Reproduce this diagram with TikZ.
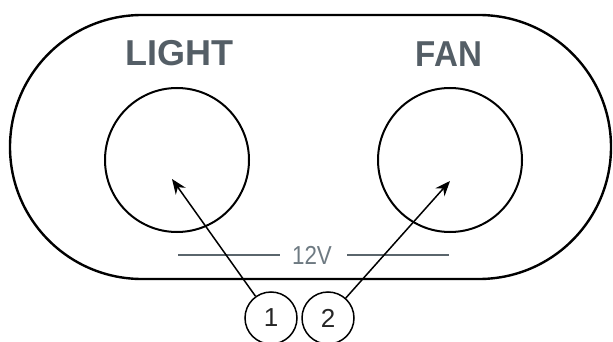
\documentclass[tikz,border=0pt]{standalone}
\usepackage{fontspec}
\setmainfont{Liberation Sans}
\usetikzlibrary{arrows.meta}
\definecolor{labelgray}{RGB}{84,94,102}
\definecolor{voltgray}{RGB}{110,122,130}
\definecolor{linegray}{RGB}{90,101,108}
\begin{document}
\begin{tikzpicture}[x=1pt,y=-1pt,
  button/.style={circle,draw=black,line width=2pt,minimum size=144pt,inner sep=0pt},
  title/.style={font=\fontsize{36}{38}\selectfont\bfseries,text=labelgray,inner sep=0pt},
  callout/.style={circle,draw=black,line width=1.5pt,minimum size=52pt,inner sep=0pt,font=\fontsize{26}{28}\selectfont,text=black!85},
  pointer/.style={line width=1.5pt,-{Stealth[length=15pt,width=12pt]}},
  volt/.style={line width=2pt,draw=linegray}]
\useasboundingbox (0,0) rectangle (613,342);
\draw[line width=2.4pt,rounded corners=132pt] (10,15) rectangle (611,279);
\node[title] (lt) at (179,53) {LIGHT};
\node[title,xscale=0.92] (ft) at (449,54) {FAN};
\node[button] (light) at (177,160) {};
\node[button] (fan) at (450,160) {};
\node[inner sep=0pt,font=\fontsize{26}{28}\selectfont,text=voltgray,xscale=0.86] (v) at (312,255) {12V};
\coordinate (l1) at (178,255);
\coordinate (l2) at (280,255);
\coordinate (r1) at (347,255);
\coordinate (r2) at (449,255);
\draw[volt] (l1) -- (l2);
\draw[volt] (r1) -- (r2);
\node[callout] (n1) at (271,318) {1};
\node[callout] (n2) at (328,318) {2};
\coordinate (t1) at (172,179);
\coordinate (t2) at (450,181);
\draw[pointer] (n1) -- (t1);
\draw[pointer] (n2) -- (t2);
\end{tikzpicture}
\end{document}
